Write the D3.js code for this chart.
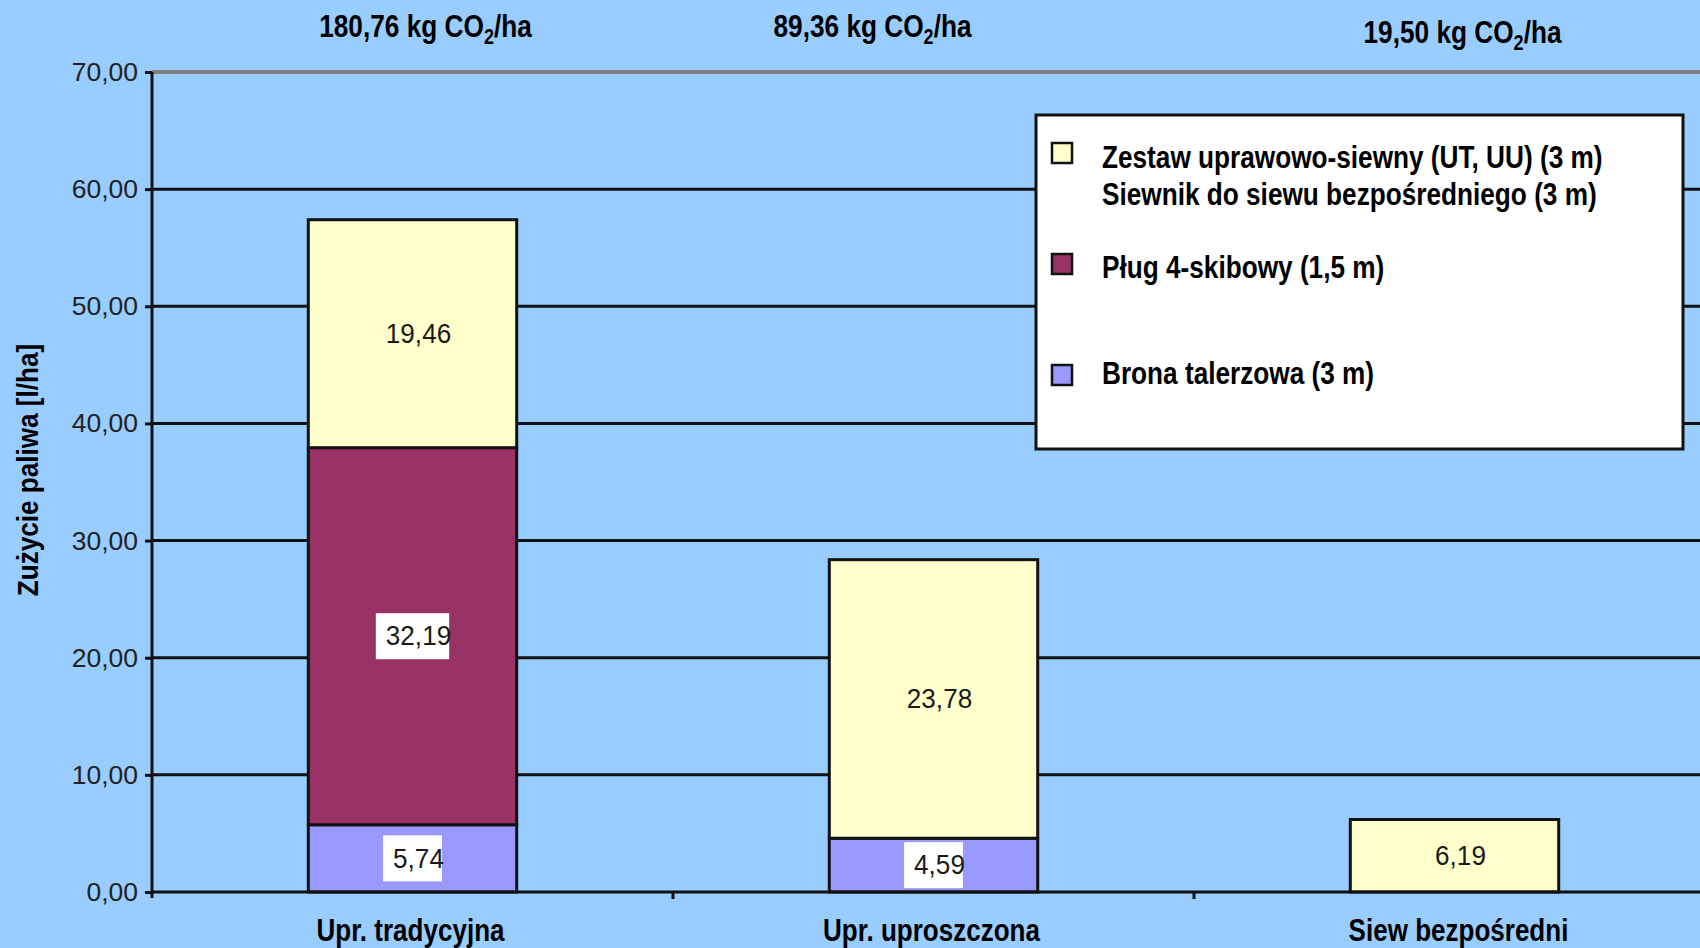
<!DOCTYPE html>
<html>
<head>
<meta charset="utf-8">
<script src="https://cdn.jsdelivr.net/npm/d3@7"></script>
<style>
  html, body { margin: 0; padding: 0; background: #99CCFF; }
  svg { display: block; }
</style>
</head>
<body>
<svg id="chart" width="1700" height="948"></svg>
<script>
// Categories (tillage systems)
const categories = ["Upr. tradycyjna", "Upr. uproszczona", "Siew bezpośredni"];

// Fuel use per implement [l/ha], stacked bottom to top
const brona   = [5.74, 4.59, 0];
const plug    = [32.19, 0, 0];
const zestaw  = [19.46, 23.78, 6.19];

// CO2 emission shown above each column
const emissions = ["180,76", "89,36", "19,50"];

// Y axis ticks
const yTicks = [0, 10, 20, 30, 40, 50, 60, 70];

// Legend labels
const legendZestaw = ["Zestaw uprawowo-siewny (UT, UU) (3 m)", "Siewnik do siewu bezpośredniego (3 m)"];
const legendPlug = ["Pług 4-skibowy (1,5 m)"];
const legendBrona = ["Brona talerzowa (3 m)"];

const series = [
  { key: "brona",  values: brona,  color: "#9999FF", box: true,  legend: legendBrona },
  { key: "plug",   values: plug,   color: "#993366", box: true,  legend: legendPlug },
  { key: "zestaw", values: zestaw, color: "#FFFFCC", box: false, legend: legendZestaw }
];

const W = 1700, H = 948;
const svg = d3.select("#chart");
const fmt = v => v.toFixed(2).replace(".", ",");

svg.append("rect").attr("width", W).attr("height", H).attr("fill", "#99CCFF");

const x = d3.scaleBand().domain(categories).range([152, 1715]).paddingInner(0.6).paddingOuter(0.3);
const y = d3.scaleLinear().domain([0, 70]).range([892, 72]);

// gridlines
svg.append("g").selectAll("line").data(yTicks.filter(d => d > 0)).join("line")
  .attr("x1", 152).attr("x2", W)
  .attr("y1", d => y(d)).attr("y2", d => y(d))
  .attr("stroke", d => d === 70 ? "#808080" : "#111")
  .attr("stroke-width", d => d === 70 ? 4 : 3);

// stacked bars
const table = categories.map((c, i) => {
  const row = { cat: c };
  series.forEach(s => row[s.key] = s.values[i]);
  return row;
});
const stack = d3.stack().keys(series.map(s => s.key))(table);

const segs = [];
stack.forEach((layer, si) => {
  layer.forEach(d => {
    const v = d[1] - d[0];
    if (v > 0) segs.push({ s: series[si], cat: d.data.cat, y0: d[0], y1: d[1], v });
  });
});

svg.append("g").selectAll("rect").data(segs).join("rect")
  .attr("x", d => x(d.cat))
  .attr("width", x.bandwidth())
  .attr("y", d => y(d.y1))
  .attr("height", d => y(d.y0) - y(d.y1))
  .attr("fill", d => d.s.color)
  .attr("stroke", "#111")
  .attr("stroke-width", 3);

// value labels
const lab = svg.append("g");
segs.forEach(d => {
  const cx = x(d.cat) + x.bandwidth() / 2;
  const cy = (y(d.y0) + y(d.y1)) / 2;
  const g = lab.append("g");
  const box = g.append("rect").attr("fill", "#fff");
  const t = g.append("text")
    .attr("transform", `translate(${cx + 6},${cy}) scale(0.95,1)`)
    .attr("text-anchor", "middle").attr("dominant-baseline", "central")
    .attr("font-family", "Liberation Sans, Arial, sans-serif")
    .attr("font-size", 27.5).attr("fill", "#1a1a1a")
    .text(fmt(d.v));
  if (d.s.box) {
    const w = t.node().getComputedTextLength() * 0.95 + 8;
    box.attr("x", cx - w / 2).attr("y", cy - 23).attr("width", w).attr("height", 46);
  } else box.remove();
});

// y axis
const yAxis = svg.append("g").attr("transform", "translate(152,0)")
  .call(d3.axisLeft(y).tickValues(yTicks).tickFormat(fmt).tickSize(7).tickPadding(7));
yAxis.select(".domain").attr("d", "M0,72V898").attr("stroke", "#111").attr("stroke-width", 3);
yAxis.selectAll(".tick line").attr("stroke", "#111").attr("stroke-width", 3);
yAxis.selectAll(".tick text")
  .attr("font-family", "Liberation Sans, Arial, sans-serif")
  .attr("font-size", 26.5).attr("fill", "#222");

// x axis line with boundary ticks
svg.append("line").attr("x1", 152).attr("x2", W).attr("y1", y(0)).attr("y2", y(0))
  .attr("stroke", "#111").attr("stroke-width", 3);
const bounds = categories.slice(1).map(c => x(c) - x.step() * x.paddingInner() / 2);
svg.append("g").selectAll("line").data(bounds).join("line")
  .attr("x1", d => d).attr("x2", d => d).attr("y1", y(0)).attr("y2", y(0) + 7)
  .attr("stroke", "#111").attr("stroke-width", 3);

const bold = sel => sel.attr("font-family", "Liberation Sans, Arial, sans-serif")
  .attr("font-weight", "bold").attr("fill", "#000");

// category labels
const catDx = [-2, -2, 4];
categories.forEach((c, i) => {
  const cx = x(c) + x.bandwidth() / 2 + catDx[i];
  svg.append("text").call(bold)
    .attr("transform", `translate(${cx},941) scale(0.84,1)`)
    .attr("text-anchor", "middle").attr("font-size", 31).text(c);
});

// emission labels above the plot
const emDx = [13, -61, 8], emDy = [37, 37, 43];
emissions.forEach((e, i) => {
  const cx = x(categories[i]) + x.bandwidth() / 2 + emDx[i];
  const t = svg.append("text").call(bold)
    .attr("transform", `translate(${cx},${emDy[i]}) scale(0.82,1)`)
    .attr("text-anchor", "middle").attr("font-size", 32);
  t.append("tspan").text(e + " kg CO");
  t.append("tspan").attr("font-size", 22).attr("dy", 7).text("2");
  t.append("tspan").attr("dy", -7).text("/ha");
});

// y axis title
svg.append("text").call(bold)
  .attr("transform", `translate(38,470) rotate(-90) scale(0.87,1)`)
  .attr("text-anchor", "middle").attr("font-size", 30)
  .text("Zużycie paliwa [l/ha]");

// legend
const lg = svg.append("g");
lg.append("rect").attr("x", 1036).attr("y", 115).attr("width", 647).attr("height", 334)
  .attr("fill", "#fff").attr("stroke", "#111").attr("stroke-width", 3);
const legendItems = [series[2], series[1], series[0]];
const swatchY = [143, 254, 365];
const lineBase = [[168, 205], [278], [384]];
legendItems.forEach((s, i) => {
  lg.append("rect").attr("x", 1052).attr("y", swatchY[i]).attr("width", 20).attr("height", 20)
    .attr("fill", s.color).attr("stroke", "#111").attr("stroke-width", 2.5);
  s.legend.forEach((txt, j) => {
    lg.append("text").call(bold)
      .attr("transform", `translate(1102,${lineBase[i][j]}) scale(0.845,1)`)
      .attr("font-size", 31).text(txt);
  });
});
</script>
</body>
</html>
